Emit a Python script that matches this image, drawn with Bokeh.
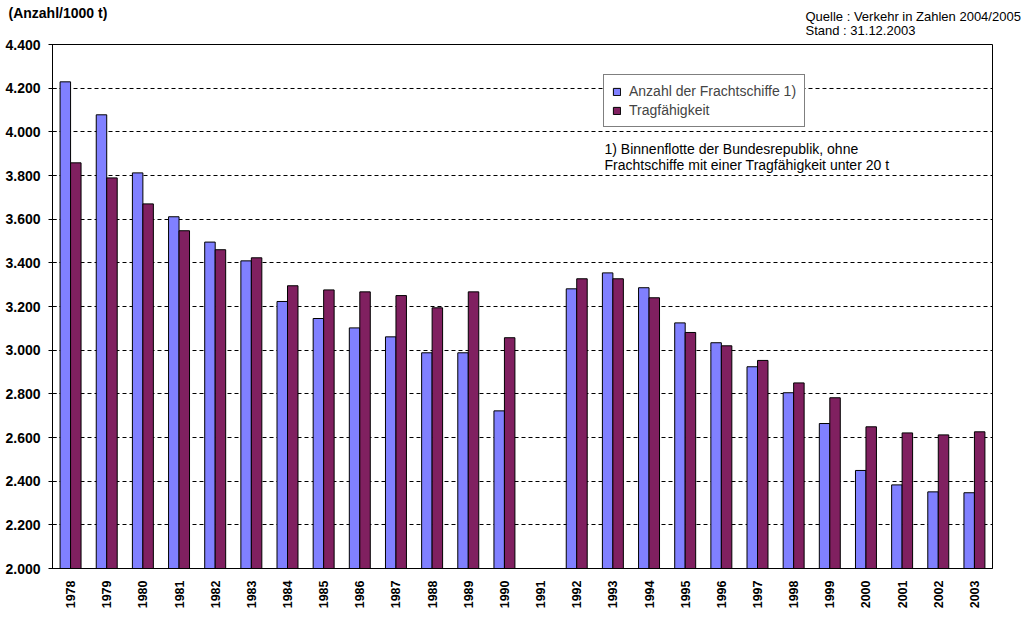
from bokeh.plotting import figure
from bokeh.models import (ColumnDataSource, FactorRange, Range1d, Legend, LegendItem,
                          Label, FixedTicker, Title)
from bokeh.transform import dodge
from bokeh.embed import file_html
from bokeh.resources import INLINE
import math

years = [str(y) for y in range(1978, 2004)]
anzahl = [4229, 4078, 3812, 3611, 3495, 3409, 3223, 3145, 3102, 3061, 2988, 2988, 2722,
          None, 3281, 3354, 3286, 3125, 3034, 2924, 2805, 2664, 2449, 2383, 2351, 2347]
tragf = [3858, 3789, 3670, 3547, 3460, 3423, 3295, 3276, 3267, 3250, 3194, 3267, 3057,
         None, 3327, 3327, 3240, 3081, 3020, 2953, 2850, 2782, 2649, 2621, 2612, 2626]
y_ticks = list(range(2000, 4401, 200))

BLUE = "#8080FF"
RED = "#802060"
FONT = "Liberation Sans"

src = ColumnDataSource(dict(
    year=years,
    a=[v if v is not None else math.nan for v in anzahl],
    t=[v if v is not None else math.nan for v in tragf],
))

p = figure(frame_width=940, frame_height=524, x_range=FactorRange(*years, range_padding=0),
           y_range=Range1d(2000, 4400), output_backend="svg", toolbar_location=None,
           min_border_left=52, min_border_right=29, min_border_top=44, min_border_bottom=46)
p.x_range.range_padding = 0

bw = 0.29
r1 = p.vbar(x=dodge("year", -bw / 2, range=p.x_range), top="a", bottom=2000, width=bw,
            source=src, fill_color=BLUE, line_color="black", line_width=1)
r2 = p.vbar(x=dodge("year", bw / 2, range=p.x_range), top="t", bottom=2000, width=bw,
            source=src, fill_color=RED, line_color="black", line_width=1)

# axes
p.yaxis.ticker = FixedTicker(ticks=y_ticks)
p.yaxis.major_label_overrides = {v: f"{v // 1000}.{v % 1000:03d}" for v in y_ticks}
p.yaxis.major_label_text_font = FONT
p.yaxis.major_label_text_font_style = "bold"
p.yaxis.major_label_text_font_size = "14px"
p.yaxis.major_label_text_color = "black"
p.yaxis.major_tick_in = 4
p.yaxis.major_tick_out = 4
p.yaxis.major_label_standoff = 8
p.yaxis.minor_tick_line_color = None
p.yaxis.axis_line_color = "black"
p.yaxis.major_tick_line_color = "black"

p.xaxis.major_label_orientation = math.pi / 2
p.xaxis.major_label_text_font = FONT
p.xaxis.major_label_text_font_style = "bold"
p.xaxis.major_label_text_font_size = "12.5px"
p.xaxis.major_label_text_color = "black"
p.xaxis.major_tick_line_color = None
p.xaxis.major_tick_out = 0
p.xaxis.major_tick_in = 0
p.xaxis.axis_line_color = "black"
p.xaxis.major_label_standoff = 12

p.xgrid.grid_line_color = None
p.ygrid.grid_line_color = "black"
p.ygrid.grid_line_dash = "4 3"
p.ygrid.grid_line_width = 1
p.outline_line_color = "black"
p.outline_line_alpha = 1
p.outline_line_width = 1

legend = Legend(items=[LegendItem(label="Anzahl der Frachtschiffe 1)", renderers=[r1]),
                       LegendItem(label="Tragfähigkeit", renderers=[r2])],
                location=(551, 441))
legend.border_line_color = "black"
legend.border_line_width = 1
legend.background_fill_color = "white"
legend.background_fill_alpha = 1
legend.label_text_font = FONT
legend.label_text_font_size = "14px"
legend.glyph_width = 9
legend.glyph_height = 9
legend.label_standoff = 8
legend.padding = 8
legend.spacing = 3
legend.margin = 0
legend.label_height = 14
p.add_layout(legend, "center")

# texts above the frame as titles
src_title = Title(text="Quelle : Verkehr in Zahlen 2004/2005\nStand : 31.12.2003",
                  align="left", offset=753, standoff=13, text_font=FONT,
                  text_font_size="13px", text_font_style="normal", text_color="black",
                  text_line_height=0.95)
p.add_layout(src_title, "above")
hdr_title = Title(text="(Anzahl/1000 t)", align="left", offset=-44, standoff=-41,
                  text_font=FONT, text_font_size="14px", text_font_style="bold",
                  text_color="black")
p.add_layout(hdr_title, "above")

txt = dict(x_units="screen", y_units="screen", text_font=FONT, text_color="black",
           text_baseline="middle")
p.add_layout(Label(x=552, y=420, text="1) Binnenflotte der Bundesrepublik, ohne",
                   text_font_size="14px", **txt))
p.add_layout(Label(x=552, y=404, text="Frachtschiffe mit einer Tragfähigkeit unter 20 t",
                   text_font_size="14px", **txt))

open("out.html", "w").write(file_html(p, INLINE))
